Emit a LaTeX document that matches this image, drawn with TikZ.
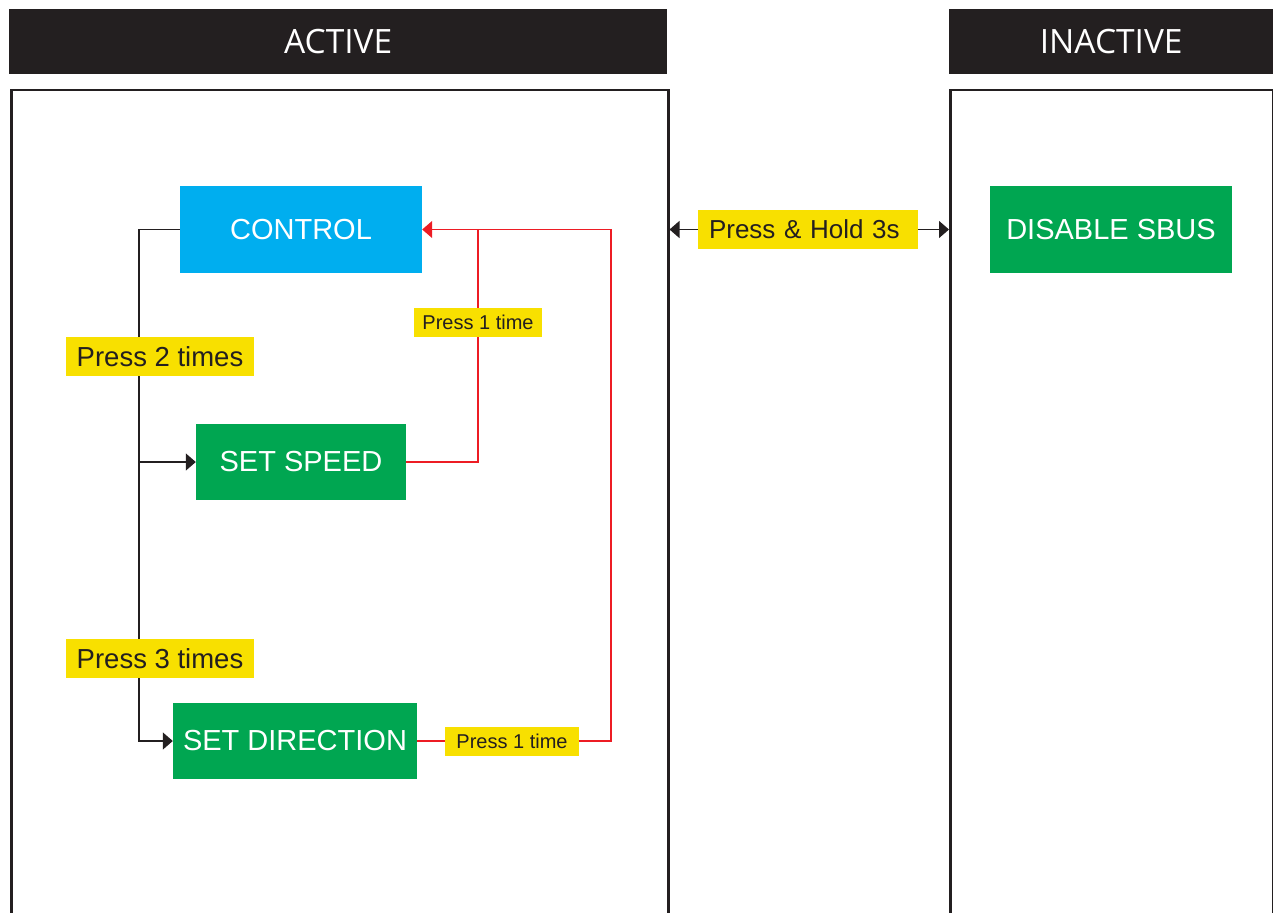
\documentclass[tikz,border=0pt]{standalone}
\usepackage{fontspec}
\setmainfont{Liberation Sans}
\newfontfamily\headfont{Open Sans}
\usetikzlibrary{arrows.meta}
\definecolor{darkbar}{RGB}{35,31,32}
\definecolor{ctrlblue}{RGB}{0,174,239}
\definecolor{modegreen}{RGB}{0,166,81}
\definecolor{labelyellow}{RGB}{248,224,0}
\definecolor{backred}{RGB}{237,28,36}

\begin{document}
\begin{tikzpicture}[x=1pt,y=-1pt,>={Triangle[length=10pt,width=17pt]},
    bar/.style={fill=darkbar,text=white,font=\headfont\fontsize{33.5}{33.5}\selectfont,
      minimum height=65,anchor=north west,inner sep=0},
    panel/.style={draw=darkbar,line width=2.5pt,minimum height=900,anchor=north west,inner sep=0},
    modebox/.style={text=white,font=\fontsize{29}{29}\selectfont,inner sep=0},
    press/.style={fill=labelyellow,text=darkbar,font=\fontsize{27.5}{27.5}\selectfont,
      minimum height=39,inner sep=0},
    press small/.style={fill=labelyellow,text=darkbar,font=\fontsize{20}{20}\selectfont,
      minimum height=29,inner sep=0},
    wire/.style={draw=darkbar,line width=1.3pt},
    backwire/.style={draw=backred,line width=1.2pt}]
    \useasboundingbox (0,0) rectangle (1273,912);
    \clip (0,0) rectangle (1273,912);

    % headers and panels
    \node[bar,minimum width=658] (activehead) at (9,9) {ACTIVE};
    \node[bar,minimum width=324] (inactivehead) at (949,9) {INACTIVE};
    \node[panel,minimum width=657] (activepanel) at (10,89) {};
    \node[panel,minimum width=323] (inactivepanel) at (949,89) {};

    % modes
    \node[modebox,fill=ctrlblue,minimum width=242,minimum height=87] (control) at (301,229.5) {CONTROL};
    \node[modebox,fill=modegreen,minimum width=210,minimum height=76] (speed) at (301,462) {SET SPEED};
    \node[modebox,fill=modegreen,minimum width=244,minimum height=76] (direction) at (295,741) {SET DIRECTION};
    \node[modebox,fill=modegreen,minimum width=242,minimum height=87] (disable) at (1111,229.5) {DISABLE SBUS};

    \coordinate (trunk) at (139,229.5);
    \coordinate (loopright) at (611,229.5);
    \coordinate (loopmid) at (478,229.5);

    \draw[wire,->] (control.west) -- (trunk) |- (direction.west);
    \draw[wire,->] (trunk |- speed.west) -- (speed.west);
    \draw[backwire,->] (direction.east) -| (loopright) -- (control.east);
    \draw[backwire] (speed.east) -| (loopmid);
    \draw[wire,<->] (activepanel.east |- control) -- (inactivepanel.west |- control);

    % labels
    \node[press,minimum width=188] (twice) at (160,356.5) {Press 2 times};
    \node[press,minimum width=188] (thrice) at (160,658.5) {Press 3 times};
    \node[press small,minimum width=128] (speedback) at (478,322.5) {Press 1 time};
    \node[press small,minimum width=134] (dirback) at (512,741) {Press 1 time};
    \node[press,font=\fontsize{26}{26}\selectfont,text width=198,inner xsep=11,align=left]
      (hold) at (808,229.5) {Press \& Hold 3s};
\end{tikzpicture}
\end{document}
